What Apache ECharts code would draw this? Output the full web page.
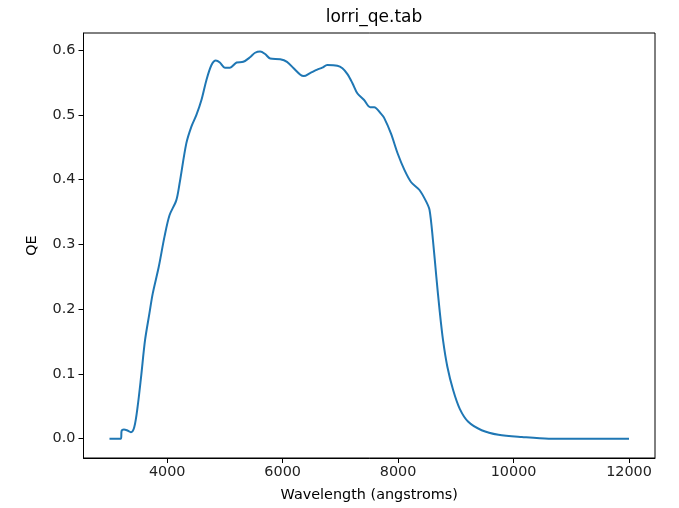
<!DOCTYPE html>
<html>
<head>
<meta charset="utf-8">
<script src="https://cdn.jsdelivr.net/npm/echarts@6/dist/echarts.min.js"></script>
<style>
  html, body { margin: 0; padding: 0; background: #fff; }
  #main { width: 679px; height: 508px; }
</style>
</head>
<body>
<div id="main"></div>
<script>
// values
var wavelength = [3000, 3100, 3200, 3210, 3250, 3300, 3372, 3430, 3487, 3547,
  3616, 3691, 3749, 3853, 3953, 4040, 4157, 4214, 4331, 4419,
  4506, 4593, 4680, 4767, 4842, 4912, 4999, 5087, 5203, 5318,
  5435, 5523, 5610, 5697, 5784, 5958, 6075, 6190, 6307, 6365,
  6482, 6599, 6686, 6773, 6947, 7035, 7122, 7209, 7296, 7411,
  7516, 7586, 7702, 7760, 7877, 7994, 8109, 8226, 8370, 8487,
  8545, 8604, 8662, 8719, 8778, 8853, 8953, 9068, 9215, 9447,
  9738, 10144, 10610, 11000, 12000];
var qe = [0, 0, 0, 0.012, 0.014, 0.013, 0.010, 0.018, 0.049, 0.095,
  0.152, 0.193, 0.224, 0.265, 0.312, 0.345, 0.368, 0.394, 0.456, 0.482,
  0.500, 0.523, 0.554, 0.577, 0.584, 0.581, 0.573, 0.573, 0.581, 0.582,
  0.589, 0.596, 0.598, 0.594, 0.587, 0.586, 0.582, 0.572, 0.562, 0.560,
  0.565, 0.570, 0.573, 0.577, 0.576, 0.572, 0.563, 0.549, 0.533, 0.523,
  0.512, 0.512, 0.502, 0.495, 0.471, 0.440, 0.415, 0.396, 0.384, 0.366,
  0.353, 0.306, 0.250, 0.198, 0.152, 0.111, 0.075, 0.046, 0.026, 0.013,
  0.006, 0.0025, 0.0, 0.0, 0.0];
var xTicks = [4000, 6000, 8000, 10000, 12000];
var yTicks = [0, 0.1, 0.2, 0.3, 0.4, 0.5, 0.6];

var points = wavelength.map(function (w, i) { return [w, qe[i]]; });
var font = 'DejaVu Sans';

var chart = echarts.init(document.getElementById('main'));
chart.setOption({
  animation: false,
  title: {
    text: 'lorri_qe.tab',
    left: 369, top: 4, textAlign: 'center',
    textStyle: { fontFamily: font, fontSize: 17, fontWeight: 'normal', color: '#000' }
  },
  grid: {
    left: 83.5, right: 24, top: 33, bottom: 50,
    show: true, borderColor: '#000', borderWidth: 1, backgroundColor: '#fff'
  },
  xAxis: {
    type: 'value', min: 2550, max: 12450,
    name: 'Wavelength (angstroms)', nameLocation: 'middle', nameGap: 30,
    nameTextStyle: { fontFamily: font, fontSize: 14.4, color: '#000' },
    splitLine: { show: false },
    axisLine: { show: true, onZero: false, lineStyle: { color: '#000' } },
    axisTick: { show: true, customValues: xTicks, length: 5, lineStyle: { color: '#000' } },
    axisLabel: {
      customValues: xTicks, fontFamily: font, fontSize: 14.4, color: '#222', margin: 7,
      formatter: function (v) { return String(v); }
    }
  },
  yAxis: {
    type: 'value', min: -0.0299, max: 0.6265,
    name: 'QE', nameLocation: 'middle', nameGap: 44,
    nameTextStyle: { fontFamily: font, fontSize: 14.4, color: '#000' },
    splitLine: { show: false },
    axisLine: { show: true, onZero: false, lineStyle: { color: '#000' } },
    axisTick: { show: true, customValues: yTicks, length: 5, lineStyle: { color: '#000' } },
    axisLabel: {
      customValues: yTicks, fontFamily: font, fontSize: 14.4, color: '#222', margin: 8,
      formatter: function (v) { return v.toFixed(1); }
    }
  },
  series: [{
    type: 'line',
    data: points,
    showSymbol: false,
    smooth: 0.3,
    lineStyle: { color: '#1f77b4', width: 2 }
  }]
});
</script>
</body>
</html>
